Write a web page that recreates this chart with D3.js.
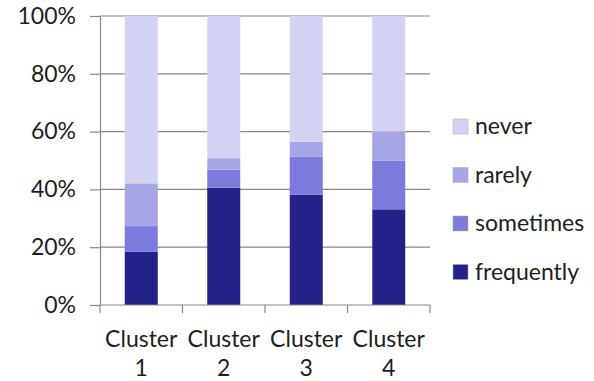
<!DOCTYPE html>
<html>
<head>
<meta charset="utf-8">
<script src="https://cdn.jsdelivr.net/npm/d3@7"></script>
<style>
  body { margin: 0; background: #fff; }
  text { font-family: Lato, "Open Sans", sans-serif; fill: #1e1e1e; }
</style>
</head>
<body>
<svg id="chart" width="594" height="381"></svg>
<script>
// values in percent
const clusters = ["1", "2", "3", "4"];
const series = ["frequently", "sometimes", "rarely", "never"];
const frequently = [18.4, 40.6, 38.1, 33.1];
const sometimes = [8.9, 6.2, 13.2, 16.8];
const rarely = [14.8, 4.0, 5.2, 10.1];
const never = [57.9, 49.2, 43.5, 40.0];
const yTicks = [0, 20, 40, 60, 80, 100];
const colors = ["#222288", "#7b7bdb", "#a6a6e6", "#d2d2f2"];

let margin = { top: 16, left: 100, right: 164, bottom: 76 },
  width = 594 - margin.left - margin.right,
  height = 381 - margin.top - margin.bottom;

let svg = d3.select("#chart");
let g = svg.append("g")
  .attr("transform", "translate(" + margin.left + "," + margin.top + ")");

let rows = clusters.map(function(c, i) {
  return { cluster: c, frequently: frequently[i], sometimes: sometimes[i], rarely: rarely[i], never: never[i] };
});
let stacked = d3.stack().keys(series)(rows);

let x = d3.scaleBand()
  .domain(clusters)
  .range([0, width])
  .paddingInner(0.6)
  .paddingOuter(0.3);

let y = d3.scaleLinear()
  .domain([0, 100])
  .range([height, 0]);

let color = d3.scaleOrdinal().domain(series).range(colors);

// gridlines
g.selectAll(".grid")
  .data(yTicks.filter(function(d) { return d > 0; }))
  .enter().append("line")
  .attr("x1", 0)
  .attr("x2", width)
  .attr("y1", function(d) { return y(d); })
  .attr("y2", function(d) { return y(d); })
  .attr("stroke", "#888")
  .attr("stroke-width", 1.2);

// bars
g.selectAll(".layer")
  .data(stacked)
  .enter().append("g")
  .attr("fill", function(d) { return color(d.key); })
  .selectAll("rect")
  .data(function(d) { return d; })
  .enter().append("rect")
  .attr("x", function(d) { return x(d.data.cluster); })
  .attr("y", function(d) { return y(d[1]); })
  .attr("width", x.bandwidth())
  .attr("height", function(d) { return y(d[0]) - y(d[1]); });

// y axis
let yAxis = g.append("g")
  .call(d3.axisLeft(y)
    .tickValues(yTicks)
    .tickFormat(function(d) { return d + "%"; })
    .tickSize(10)
    .tickSizeOuter(0)
    .tickPadding(14));
yAxis.select(".domain").attr("stroke", "#888").attr("stroke-width", 1.2);
yAxis.selectAll(".tick line").attr("stroke", "#888").attr("stroke-width", 1.2);
yAxis.selectAll("text")
  .attr("font-size", "23px")
  .attr("font-family", "Lato, sans-serif")
  .attr("fill", "#1e1e1e");

// x axis: line, ticks at category boundaries, two-line labels
let step = x.step();
let bounds = d3.range(clusters.length + 1).map(function(i) { return i * step; });
g.append("line")
  .attr("x1", 0).attr("x2", width)
  .attr("y1", height).attr("y2", height)
  .attr("stroke", "#888").attr("stroke-width", 1.2);
g.selectAll(".xtick")
  .data(bounds)
  .enter().append("line")
  .attr("x1", function(d) { return d; })
  .attr("x2", function(d) { return d; })
  .attr("y1", height)
  .attr("y2", height + 8)
  .attr("stroke", "#888").attr("stroke-width", 1.2);

let xLabels = g.selectAll(".xlabel")
  .data(clusters)
  .enter().append("text")
  .attr("text-anchor", "middle")
  .attr("font-size", "23px")
  .attr("transform", function(d) { return "translate(" + (x(d) + x.bandwidth() / 2) + "," + (height + 42) + ")"; });
xLabels.append("tspan").attr("x", 0).attr("y", 0).text("Cluster");
xLabels.append("tspan").attr("x", 0).attr("y", 29).text(function(d) { return d; });

// legend, never on top
let legend = svg.append("g")
  .attr("transform", "translate(453,119)");
let legendItems = legend.selectAll(".item")
  .data(series.slice().reverse())
  .enter().append("g")
  .attr("transform", function(d, i) { return "translate(0," + (i * 48.5) + ")"; });
legendItems.append("rect")
  .attr("width", 15)
  .attr("height", 15)
  .attr("fill", function(d) { return color(d); })
  .attr("stroke", "#aaa")
  .attr("stroke-width", 0.5);
legendItems.append("text")
  .attr("x", 22)
  .attr("y", 15)
  .attr("font-size", "23px")
  .text(function(d) { return d; });
</script>
</body>
</html>
